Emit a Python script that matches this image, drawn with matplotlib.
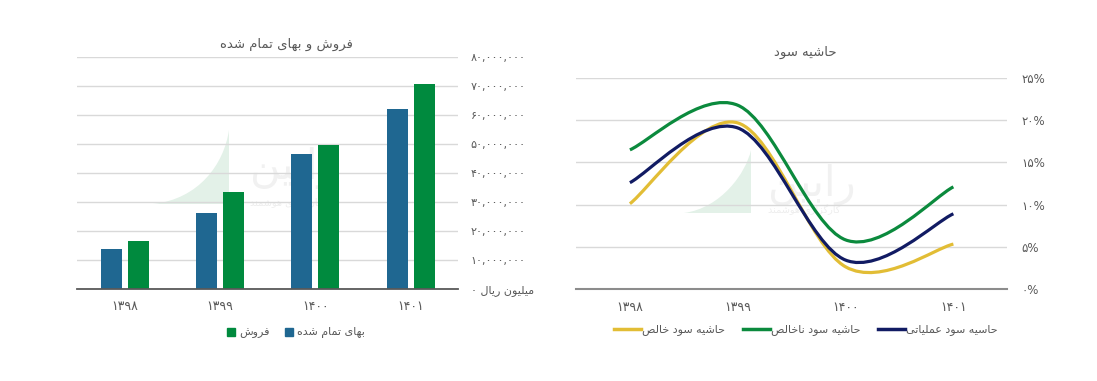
import matplotlib
matplotlib.use("Agg")
import matplotlib.pyplot as plt
from matplotlib.path import Path
from matplotlib.patches import PathPatch, Patch
from matplotlib.lines import Line2D
from matplotlib.ticker import FuncFormatter, MultipleLocator
import numpy as np

# data
years = ["۱۳۹۸", "۱۳۹۹", "۱۴۰۰", "۱۴۰۱"]
cost_of_sales = [13.8e6, 26.1e6, 46.5e6, 61.9e6]   # بهای تمام شده
sales = [16.5e6, 33.3e6, 49.5e6, 70.5e6]           # فروش

net_margin = [10.1, 19.7, 2.6, 5.3]        # حاشیه سود خالص
gross_margin = [16.5, 21.8, 5.8, 12.1]     # حاشیه سود ناخالص
operating_margin = [12.6, 19.1, 3.4, 8.9]  # حاسیه سود عملیاتی

bar_title = "فروش و بهای تمام شده"
line_title = "حاشیه سود"
bar_labels = ["بهای تمام شده", "فروش"]
line_labels = ["حاشیه سود خالص", "حاشیه سود ناخالص", "حاسیه سود عملیاتی"]
zero_label = "میلیون ریال ۰"
brand = "رابین"
brand_sub = "کارگزاری هوشمند"

# --- minimal arabic shaping (matplotlib has no text shaping) ---
FORMS = {
    "ا": (0xFE8D, 0xFE8E), "د": (0xFEA9, 0xFEAA), "ر": (0xFEAD, 0xFEAE),
    "و": (0xFEED, 0xFEEE), "ز": (0xFEAF, 0xFEB0),
    "ب": (0xFE8F, 0xFE90, 0xFE91, 0xFE92), "ت": (0xFE95, 0xFE96, 0xFE97, 0xFE98),
    "ح": (0xFEA1, 0xFEA2, 0xFEA3, 0xFEA4), "خ": (0xFEA5, 0xFEA6, 0xFEA7, 0xFEA8),
    "س": (0xFEB1, 0xFEB2, 0xFEB3, 0xFEB4), "ش": (0xFEB5, 0xFEB6, 0xFEB7, 0xFEB8),
    "ص": (0xFEB9, 0xFEBA, 0xFEBB, 0xFEBC), "ع": (0xFEC9, 0xFECA, 0xFECB, 0xFECC),
    "ف": (0xFED1, 0xFED2, 0xFED3, 0xFED4), "ل": (0xFEDD, 0xFEDE, 0xFEDF, 0xFEE0),
    "م": (0xFEE1, 0xFEE2, 0xFEE3, 0xFEE4), "ن": (0xFEE5, 0xFEE6, 0xFEE7, 0xFEE8),
    "ه": (0xFEE9, 0xFEEA, 0xFEEB, 0xFEEC), "ی": (0xFBFC, 0xFBFD, 0xFBFE, 0xFBFF),
    "ک": (0xFB8E, 0xFB8F, 0xFB90, 0xFB91), "گ": (0xFB92, 0xFB93, 0xFB94, 0xFB95),
}


def rtl(text):
    out = []
    n = len(text)
    for i, c in enumerate(text):
        if c not in FORMS:
            out.append(c)
            continue
        f = FORMS[c]
        prev_join = i > 0 and text[i - 1] in FORMS and len(FORMS[text[i - 1]]) == 4
        next_join = len(f) == 4 and i + 1 < n and text[i + 1] in FORMS
        if prev_join and next_join:
            out.append(chr(f[3]))
        elif prev_join:
            out.append(chr(f[1]))
        elif next_join:
            out.append(chr(f[2]))
        else:
            out.append(chr(f[0]))
    return "".join(out)[::-1]


def fa_digits(s):
    return s.translate(str.maketrans("0123456789", "۰۱۲۳۴۵۶۷۸۹"))


def smooth_path(xs, ys):
    # catmull-rom style smoothing drawn as cubic bezier segments
    pts = np.column_stack([xs, ys]).astype(float)
    n = len(pts)
    verts = [pts[0]]
    codes = [Path.MOVETO]
    for i in range(n - 1):
        p0 = pts[max(i - 1, 0)]
        p1 = pts[i]
        p2 = pts[i + 1]
        p3 = pts[min(i + 2, n - 1)]
        c1 = p1 + (p2 - p0) / 6
        c2 = p2 - (p3 - p1) / 6
        verts += [c1, c2, p2]
        codes += [Path.CURVE4] * 3
    return Path(verts, codes)


W, H = 1097, 381


def fx(px):
    return px / W


def fy(py):
    return 1 - py / H


def watermark(fig, edge_x, top_y, bot_y, left_x, text_x, text_y, sub_y):
    # faint logo swoosh + brand text behind the chart
    verts = [(fx(edge_x), fy(top_y)), (fx(edge_x - 5), fy(bot_y - 40)),
             (fx(edge_x - 30), fy(bot_y - 5)), (fx(left_x), fy(bot_y)),
             (fx(edge_x), fy(bot_y)), (fx(edge_x), fy(top_y))]
    codes = [Path.MOVETO, Path.CURVE4, Path.CURVE4, Path.CURVE4,
             Path.LINETO, Path.CLOSEPOLY]
    fig.add_artist(PathPatch(Path(verts, codes), transform=fig.transFigure,
                             facecolor="#e3f1e8", edgecolor="none", zorder=-2))
    fig.text(fx(text_x), fy(text_y), rtl(brand), fontsize=30, color="#f1f1f1",
             ha="left", va="center", zorder=-2)
    fig.text(fx(text_x), fy(sub_y), rtl(brand_sub), fontsize=7, color="#eeeeee",
             ha="left", va="center", zorder=-2)


plt.rcParams["font.family"] = ["DejaVu Sans"]
TXT = "#595959"
GRID = "#d9d9d9"

fig = plt.figure(figsize=(W / 100, H / 100), dpi=100)
watermark(fig, 229, 130, 204, 153, 250, 168, 203)
watermark(fig, 751, 150, 213, 684, 768, 185, 210)

# ---------------- bar chart ----------------
ax1 = fig.add_axes([fx(77.3), fy(289), fx(381), 232.3 / H])
ax1.set_facecolor("none")
x = np.arange(len(years))
w = 0.22
ax1.bar(x - 0.142, cost_of_sales, w, color="#1f6791", zorder=3)
ax1.bar(x + 0.142, sales, w, color="#008a3e", zorder=3)
ax1.set_xlim(-0.5, len(years) - 0.5)
ax1.set_ylim(0, 80e6)
ax1.yaxis.set_major_locator(MultipleLocator(10e6))
ax1.yaxis.tick_right()


def money_fmt(v, pos):
    if abs(v) < 1:
        return rtl(zero_label)
    return fa_digits(f"{v:,.0f}")


ax1.yaxis.set_major_formatter(FuncFormatter(money_fmt))
ax1.grid(axis="y", color=GRID, lw=1, zorder=0)
ax1.set_xticks(x)
ax1.set_xticklabels(years)
for s in ["left", "right", "top"]:
    ax1.spines[s].set_visible(False)
ax1.spines["bottom"].set_color("#595959")
ax1.spines["bottom"].set_linewidth(1.3)
ax1.spines["bottom"].set_zorder(4)
ax1.tick_params(axis="y", length=0, pad=9, labelsize=8, labelcolor=TXT)
ax1.tick_params(axis="x", length=0, pad=8, labelsize=9, labelcolor=TXT)
for lab in ax1.get_yticklabels():
    lab.set_horizontalalignment("left")

fig.text(fx(286.5), fy(44), rtl(bar_title), ha="center", va="center",
         fontsize=9.5, color=TXT)
h1 = [Patch(color="#008a3e"), Patch(color="#1f6791")]
fig.legend(h1, [rtl(bar_labels[1]), rtl(bar_labels[0])], loc="center",
           bbox_to_anchor=(fx(296), fy(333)), ncol=2, frameon=False,
           fontsize=8, labelcolor=TXT, handlelength=0.75, handleheight=0.75,
           handletextpad=0.4, columnspacing=1.3)

# ---------------- line chart ----------------
ax2 = fig.add_axes([fx(576), fy(288.7), fx(431.3), 210.4 / H])
ax2.set_facecolor("none")
ax2.set_xlim(-0.5, len(years) - 0.5)
ax2.set_ylim(0, 25)
ax2.yaxis.set_major_locator(MultipleLocator(5))
ax2.yaxis.tick_right()
ax2.yaxis.set_major_formatter(FuncFormatter(lambda v, p: fa_digits(f"{v:.0f}") + "%"))
ax2.grid(axis="y", color=GRID, lw=1, zorder=0)
ax2.set_xticks(x)
ax2.set_xticklabels(years)
for s in ["left", "right", "top"]:
    ax2.spines[s].set_visible(False)
ax2.spines["bottom"].set_color("#8c8c8c")
ax2.spines["bottom"].set_linewidth(1.5)
ax2.tick_params(axis="y", length=0, pad=10, labelsize=8.5, labelcolor=TXT)
ax2.tick_params(axis="x", length=0, pad=9, labelsize=9, labelcolor=TXT)
for lab in ax2.get_yticklabels():
    lab.set_horizontalalignment("left")

series = [(net_margin, "#e2bd35"), (gross_margin, "#0b8a3d"), (operating_margin, "#111b63")]
for vals, col in series:
    ax2.add_patch(PathPatch(smooth_path(x, vals), facecolor="none", edgecolor=col,
                            lw=2.3, capstyle="butt", zorder=3))

fig.text(fx(805), fy(52), rtl(line_title), ha="center", va="center",
         fontsize=9.5, color=TXT)
h2 = [Line2D([], [], color=c, lw=2.5) for _, c in series]
fig.legend(h2, [rtl(t) for t in line_labels], loc="center",
           bbox_to_anchor=(fx(806), fy(330)), ncol=3, frameon=False,
           fontsize=8, labelcolor=TXT, handlelength=2.4, handletextpad=0.1,
           columnspacing=1.6)

fig.savefig("out.png", dpi=100)
